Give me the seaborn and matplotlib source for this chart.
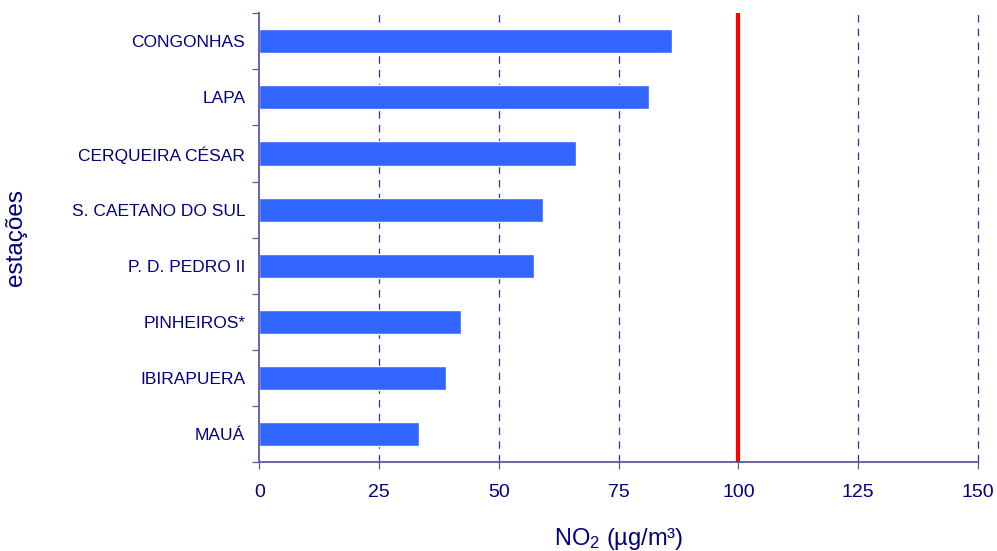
import seaborn as sns
import pandas as pd
import matplotlib.pyplot as plt
import numpy as np

# NO2 by station
stations = ['CONGONHAS', 'LAPA', 'CERQUEIRA CÉSAR', 'S. CAETANO DO SUL',
            'P. D. PEDRO II', 'PINHEIROS*', 'IBIRAPUERA', 'MAUÁ']
no2 = [86.2, 81.4, 66.1, 59.3, 57.4, 42.1, 39.0, 33.4]
xticks = [0, 25, 50, 75, 100, 125, 150]
limit = 100

navy = '#000080'
spine = '#5a5aa0'

sns.set_style("white")
plt.rcParams['font.family'] = ['Liberation Sans', 'DejaVu Sans']
plt.rcParams['mathtext.default'] = 'regular'

df = pd.DataFrame({'station': stations, 'no2': no2})

fig = plt.figure(figsize=(9.97, 5.51), dpi=100)
ax = fig.add_axes([0.26, 0.1615, 0.721, 0.8145])

for v in xticks[1:]:
    if v != limit:
        ax.axvline(v, color='#30309a', lw=0.9, ls=(0, (6, 5)), zorder=0,
                   clip_on=False)

sns.barplot(data=df, y='station', x='no2', orient='h', color='#3366ff',
            saturation=1, width=0.43, ax=ax, zorder=2)
ax.axvline(limit, color='#ff0000', lw=3, zorder=3)

ax.set_xlim(0, 150)
ax.set_ylim(7.5, -0.5)
ax.set_xticks(xticks)
ax.set_yticks(range(len(stations)))
ax.set_yticks(np.arange(-0.5, len(stations), 1), minor=True)
ax.tick_params(axis='y', which='major', length=0, pad=10, labelsize=12.5,
               labelcolor=navy)
ax.tick_params(axis='y', which='minor', length=5, width=0.9, color=spine,
               direction='out', left=True)
ax.tick_params(axis='x', length=5, width=0.9, color=spine, direction='out',
               bottom=True, pad=11, labelsize=14, labelcolor=navy)

for s in ['top', 'right']:
    ax.spines[s].set_visible(False)
for s in ['left', 'bottom']:
    ax.spines[s].set_color(spine)
    ax.spines[s].set_linewidth(1.3)

ax.set_xlabel('NO$_2$ (µg/m³)', fontsize=17, color=navy)
ax.set_ylabel('estações', fontsize=17.5, color=navy)
ax.xaxis.set_label_coords(0.5, -0.142)
ax.yaxis.set_label_coords(-0.323, 0.5)

plt.savefig('out.png', dpi=100)
